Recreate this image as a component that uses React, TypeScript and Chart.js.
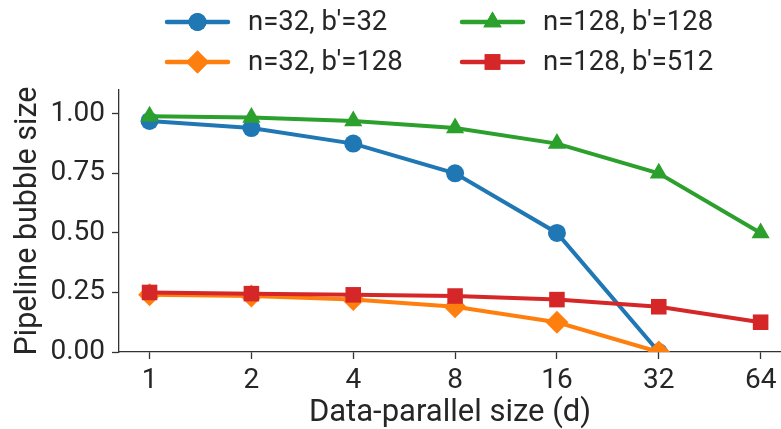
import React, { useEffect, useRef } from 'react';
import { Chart, registerables } from 'chart.js';
import { drawPoint } from 'chart.js/helpers';
Chart.register(...registerables);

const dpSizes = ['1', '2', '4', '8', '16', '32', '64'];
const yTicks = [0, 0.25, 0.5, 0.75, 1.0];

const n32b32 = [0.97, 0.94, 0.875, 0.75, 0.5, 0.0];
const n32b128 = [0.24, 0.235, 0.22, 0.19, 0.125, 0.0];
const n128b128 = [0.99, 0.985, 0.97, 0.94, 0.875, 0.75, 0.5];
const n128b512 = [0.25, 0.245, 0.24, 0.235, 0.22, 0.19, 0.125];

const seriesLabels = ["n=32, b'=32", "n=32, b'=128", "n=128, b'=128", "n=128, b'=512"];
const seriesColors = ['#1f77b4', '#ff7f0e', '#2ca02c', '#d62728'];
const seriesMarkers = ['circle', 'rectRot', 'triangle', 'rect'];
const markerRadii = [9, 11.5, 10.5, 11];

const TEXT = '#262626';
const AXIS = '#333333';
const FONT = 'Roboto, "DejaVu Sans", sans-serif';

export default function App() {
  const ref = useRef<HTMLCanvasElement>(null);

  useEffect(() => {
    const toPts = (arr: number[]) => arr.map((y, i) => ({ x: i, y }));
    const allSeries = [n32b32, n32b128, n128b128, n128b512];

    const legendPlugin = {
      id: 'mplLegend',
      afterDraw(chart: any) {
        const ctx = chart.ctx;
        ctx.save();
        const colLineX = [167, 462];
        const rowY = [22, 62];
        chart.data.datasets.forEach((ds: any, i: number) => {
          const col = Math.floor(i / 2);
          const row = i % 2;
          const x0 = colLineX[col];
          const y = rowY[row];
          ctx.strokeStyle = ds.borderColor;
          ctx.lineWidth = 4.5;
          ctx.lineCap = 'round';
          ctx.beginPath();
          ctx.moveTo(x0, y);
          ctx.lineTo(x0 + 61, y);
          ctx.stroke();
          ctx.fillStyle = ds.borderColor;
          drawPoint(ctx, { pointStyle: ds.pointStyle, radius: ds.pointRadius, rotation: 0, borderWidth: 0 } as any, x0 + 30.5, y);
          ctx.fill();
          ctx.fillStyle = TEXT;
          ctx.font = `27.5px ${FONT}`;
          ctx.textAlign = 'left';
          ctx.textBaseline = 'middle';
          ctx.fillText(ds.label, x0 + 81, y + 1);
        });
        ctx.restore();
      },
    };

    const chart = new Chart(ref.current as HTMLCanvasElement, {
      type: 'line',
      data: {
        datasets: allSeries.map((s, i) => ({
          label: seriesLabels[i],
          data: toPts(s),
          borderColor: seriesColors[i],
          backgroundColor: seriesColors[i],
          borderWidth: 4,
          pointStyle: seriesMarkers[i] as any,
          pointRadius: markerRadii[i],
          pointBorderWidth: 0,
          pointBackgroundColor: seriesColors[i],
          tension: 0,
          clip: 0,
          order: 4 - i,
        })),
      },
      options: {
        responsive: false,
        animation: false,
        events: [],
        layout: { autoPadding: false, padding: { top: 90, left: 0, right: 0, bottom: 0 } },
        plugins: { legend: { display: false }, tooltip: { enabled: false } },
        scales: {
          x: {
            type: 'linear',
            min: -0.3,
            max: 6.2,
            afterBuildTicks: (scale: any) => {
              scale.ticks = dpSizes.map((_, i) => ({ value: i }));
            },
            afterFit: (scale: any) => {
              scale.height = 77;
              scale.paddingLeft = 0;
              scale.paddingRight = 0;
            },
            ticks: {
              callback: (v: any) => dpSizes[v] ?? '',
              font: { family: FONT, size: 28 },
              color: TEXT,
              padding: 5,
              maxRotation: 0,
              autoSkip: false,
            },
            grid: {
              display: true,
              drawOnChartArea: false,
              drawTicks: true,
              tickLength: 7,
              tickColor: AXIS,
              tickWidth: 1.3,
            },
            border: { display: true, color: AXIS, width: 1.3 },
            title: {
              display: true,
              text: 'Data-parallel size (d)',
              font: { family: FONT, size: 31, lineHeight: 1.0 },
              color: TEXT,
              padding: { top: 0, bottom: 0 },
            },
          },
          y: {
            type: 'linear',
            min: 0,
            max: 1.1,
            afterBuildTicks: (scale: any) => {
              scale.ticks = yTicks.map((v) => ({ value: v }));
            },
            afterFit: (scale: any) => {
              scale.width = 119;
              scale.paddingTop = 0;
              scale.paddingBottom = 0;
            },
            ticks: {
              callback: (v: any) => Number(v).toFixed(2),
              font: { family: FONT, size: 28 },
              color: TEXT,
              padding: 7,
            },
            grid: {
              display: true,
              drawOnChartArea: false,
              drawTicks: true,
              tickLength: 7,
              tickColor: AXIS,
              tickWidth: 1.3,
            },
            border: { display: true, color: AXIS, width: 1.3 },
            title: {
              display: true,
              text: 'Pipeline bubble size',
              font: { family: FONT, size: 30.5, lineHeight: 1.0 },
              color: TEXT,
              padding: { top: 13, bottom: 0 },
            },
          },
        },
      },
      plugins: [legendPlugin],
    });
    return () => chart.destroy();
  }, []);

  return (
    <div style={{ position: 'absolute', left: 0, top: 0, width: 781, height: 429, background: '#fff' }}>
      <canvas ref={ref} width={781} height={429} style={{ display: 'block' }} />
    </div>
  );
}
